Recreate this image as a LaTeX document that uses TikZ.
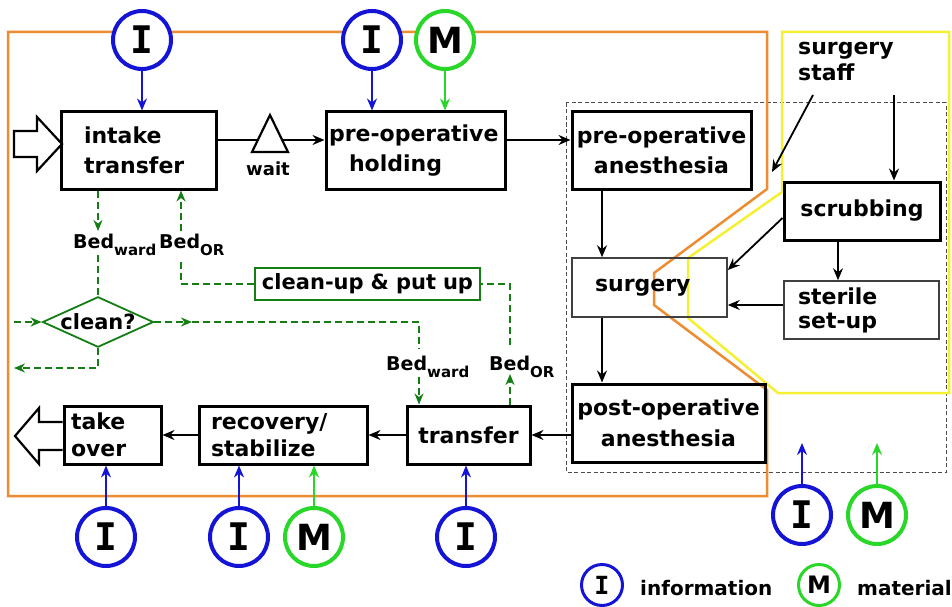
\documentclass[tikz,border=0pt]{standalone}
\usepackage{fontspec}
\setmainfont{DejaVu Sans}
\newfontfamily\monofam{DejaVu Sans Mono}
\usetikzlibrary{arrows.meta,shapes.geometric}
\definecolor{orng}{RGB}{238,140,50}
\definecolor{ylw}{RGB}{245,240,50}
\definecolor{iblue}{RGB}{20,20,215}
\definecolor{mgreen}{RGB}{40,215,40}
\definecolor{dkgreen}{RGB}{20,125,20}
\newcommand\bedw{Bed\raisebox{-7pt}{\fontsize{15}{15}\selectfont ward}}
\newcommand\bedor{Bed\raisebox{-7pt}{\fontsize{15}{15}\selectfont OR}}
\begin{document}
\begin{tikzpicture}[x=1pt,y=-1pt,
  bx/.style={draw, line width=3pt, inner ysep=0pt, font=\fontsize{22}{30}\selectfont\bfseries},
  bxlow/.style={draw, line width=3pt, inner ysep=0pt, font=\fontsize{22}{27}\selectfont\bfseries},
  thinbx/.style={draw=black!75, line width=1.6pt, inner ysep=0pt, font=\fontsize{22}{24}\selectfont\bfseries},
  arr/.style={line width=1.8pt, -{Stealth[length=12pt,width=10pt,inset=4pt]}},
  barr/.style={iblue, line width=2pt, -{Stealth[length=12pt,width=10pt,inset=4pt]}},
  marr/.style={mgreen, line width=2pt, -{Stealth[length=12pt,width=10pt,inset=4pt]}},
  gd/.style={dkgreen, line width=1.8pt, dash pattern=on 7pt off 4pt},
  garr/.style={-{Stealth[length=11pt,width=9pt,inset=3.5pt]}},
  icirc/.style={circle, draw=iblue, line width=4pt, fill=white, minimum size=58pt, inner sep=0pt, font=\monofam\bfseries\fontsize{38}{38}\selectfont},
  mcirc/.style={circle, draw=mgreen, line width=4pt, fill=white, minimum size=58pt, inner sep=0pt, font=\bfseries\fontsize{36}{36}\selectfont},
  icircs/.style={circle, draw=iblue, line width=3pt, fill=white, minimum size=41pt, inner sep=0pt, font=\monofam\bfseries\fontsize{25}{25}\selectfont},
  mcircs/.style={circle, draw=mgreen, line width=3pt, fill=white, minimum size=41pt, inner sep=0pt, font=\bfseries\fontsize{24}{24}\selectfont},
  bedlbl/.style={anchor=base west, inner sep=0pt, font=\fontsize{19}{19}\selectfont\bfseries}
]
\useasboundingbox (0,0) rectangle (952,607);
\fill[white] (0,0) rectangle (952,607);

% regions
\draw[black!70, line width=1pt, dash pattern=on 4pt off 2.5pt] (566,103) rectangle (946,472);
\draw[orng, line width=2.5pt, line join=miter] (8,32) -- (767,32) -- (767,189) -- (654,273) -- (654,305) -- (767,390) -- (767,496) -- (8,496) -- cycle;
\draw[ylw, line width=2.5pt, line join=miter] (782,32) -- (949,32) -- (949,393) -- (778,393) -- (688,318) -- (688,258) -- (782,192) -- cycle;

% boxes
\node[bx, inner xsep=23pt, text width=109pt, minimum height=77pt, align=left] (intake) at (138.5,150.5) {intake\\transfer};
\node[bx, inner xsep=3pt, text width=173pt, minimum height=77pt, align=left] (preop) at (415.5,150.5) {pre-operative\\\hspace*{20pt}holding};
\node[bx, inner xsep=3pt, text width=173pt, minimum height=77pt, align=center] (preopAn) at (661.5,150.5) {pre-operative\\anesthesia};
\node[thinbx, inner xsep=23pt, text width=109pt, minimum height=59pt, align=left] (surg) at (649.5,287.5) {surgery};
\node[bx, inner xsep=2pt, text width=189pt, minimum height=78pt, align=center, font=\fontsize{22}{31}\selectfont\bfseries] (postop) at (668.5,423) {post-operative\\anesthesia};
\node[bx, inner xsep=3pt, text width=150pt, minimum height=58pt, align=center] (scrub) at (862,211) {scrubbing};
\node[thinbx, inner xsep=14pt, text width=127pt, minimum height=58pt, align=left] (sterile) at (861.5,310) {sterile\\set-up};
\node[bxlow, inner xsep=7pt, text width=83pt, minimum height=58pt, align=left] (takeover) at (112.5,435) {take\\over};
\node[bxlow, inner xsep=12pt, text width=144pt, minimum height=58pt, align=left] (recov) at (283,435) {recovery/\\stabilize};
\node[bxlow, inner xsep=3pt, text width=117pt, minimum height=58pt, align=center] (transfer) at (468.5,435) {transfer};
\node[draw=dkgreen, line width=1.6pt, inner xsep=2pt, text width=221pt, minimum height=32pt, inner ysep=0pt, align=center, font=\fontsize{21}{21}\selectfont\bfseries] (cleanup) at (367.5,284) {clean-up \& put up};
\node[diamond, draw=dkgreen, line width=1.8pt, aspect=2.2, inner sep=0pt, font=\fontsize{21}{21}\selectfont\bfseries] (clean) at (98,322) {clean?};

% text
\node[anchor=north west, align=left, inner sep=0pt, font=\fontsize{22}{26}\selectfont\bfseries] (staff) at (798,42) {surgery\\staff};

% black flow arrows
\draw[arr] ([yshift=10.5pt]intake.east) -- ([yshift=10.5pt]preop.west);
\draw[line width=2.2pt, fill=white, line join=miter] (252,152) -- (270,115) -- (288,152) -- cycle;
\node[anchor=base, inner sep=0pt, font=\fontsize{18}{18}\selectfont\bfseries] (waitL) at (268,175) {wait};
\draw[arr] ([yshift=10.5pt]preop.east) -- ([yshift=10.5pt]preopAn.west);
\coordinate (xA) at (602,0);
\draw[arr] (preopAn.south -| xA) -- (surg.north -| xA);
\draw[arr] (surg.south -| xA) -- (postop.north -| xA);
\coordinate (st1) at (813,95);
\coordinate (st1e) at (772,172);
\draw[arr] (st1) -- (st1e);
\coordinate (st2) at (894,95);
\draw[arr] (st2) -- (scrub.north -| st2);
\draw[arr] ([yshift=-7pt]scrub.west) -- ([yshift=17.5pt]surg.east);
\coordinate (xB) at (838,0);
\draw[arr] (scrub.south -| xB) -- (sterile.north -| xB);
\draw[arr] ([yshift=5pt]sterile.west) -- ([yshift=5pt]sterile.west -| surg.east);
\draw[arr] (postop.west |- transfer.east) -- (transfer.east);
\draw[arr] (transfer.west) -- (recov.east);
\draw[arr] (recov.west) -- (takeover.east);

% block arrows in / out
\draw[line width=2.2pt, fill=white, line join=miter] (14,131) -- (37,131) -- (37,117) -- (62,144) -- (37,171) -- (37,157) -- (14,157) -- cycle;
\draw[line width=2.2pt, fill=white, line join=miter] (takeover.west |- 0,422) -- (39,422) -- (39,408) -- (15,436) -- (39,464) -- (39,450) -- (takeover.west |- 0,450);

% green dashed bed flow
\node[bedlbl] (lbw1) at (73,248) {\bedw};
\node[bedlbl] (lbo1) at (159,248) {\bedor};
\node[bedlbl] (lbw2) at (386,370) {\bedw};
\node[bedlbl] (lbo2) at (489,370) {\bedor};
\coordinate (g1) at (98,231);
\draw[gd,garr] (intake.south -| g1) -- (g1);
\coordinate (g2) at (98,255);
\draw[gd] (g2) -- (clean.north);
\coordinate (g3) at (14,322);
\draw[gd,garr] (g3) -- (clean.west);
\coordinate (g4) at (192,322);
\draw[gd,garr] (clean.east) -- (g4);
\coordinate (g5) at (419,349);
\draw[gd] (g4) -| (g5);
\coordinate (g6) at (419,377);
\draw[gd,garr] (g6) -- (transfer.north -| g6);
\coordinate (g7) at (14,368);
\draw[gd,garr] (clean.south) |- (g7);
\coordinate (g8) at (510,374);
\draw[gd,garr] (transfer.north -| g8) -- (g8);
\coordinate (g9) at (510,345);
\draw[gd] (g9) |- (cleanup.east);
\coordinate (g10) at (181,262);
\draw[gd] (cleanup.west) -| (g10);
\coordinate (g11) at (181,231);
\draw[gd,garr] (g11) -- (intake.south -| g11);

% information / material circles
\node[icirc] (Ia) at (142,40) {I};
\node[icirc] (Ib) at (372,40) {I};
\node[mcirc] (Ma) at (445,40) {M};
\draw[barr] (Ia.south) -- (intake.north -| Ia);
\draw[barr] (Ib.south) -- (preop.north -| Ib);
\draw[marr] (Ma.south) -- (preop.north -| Ma);

\node[icirc] (Ic) at (106,537) {I};
\node[icirc] (Id) at (239,537) {I};
\node[mcirc] (Mb) at (314,537) {M};
\node[icirc] (Ie) at (466,537) {I};
\draw[barr] (Ic.north) -- (takeover.south -| Ic);
\draw[barr] (Id.north) -- (recov.south -| Id);
\draw[marr] (Mb.north) -- (recov.south -| Mb);
\draw[barr] (Ie.north) -- (transfer.south -| Ie);

\node[icirc] (If) at (802,515) {I};
\node[mcirc] (Mc) at (877,515) {M};
\coordinate (If2) at (802,443);
\coordinate (Mc2) at (877,443);
\draw[barr] (If.north) -- (If2);
\draw[marr] (Mc.north) -- (Mc2);

% legend
\node[icircs] (legI) at (602,585) {I};
\node[anchor=base west, inner sep=0pt, font=\fontsize{20}{20}\selectfont\bfseries] (legIt) at (640,595) {information};
\node[mcircs] (legM) at (819,585) {M};
\node[anchor=base west, inner sep=0pt, font=\fontsize{20}{20}\selectfont\bfseries] (legMt) at (857,595) {material};
\end{tikzpicture}
\end{document}
